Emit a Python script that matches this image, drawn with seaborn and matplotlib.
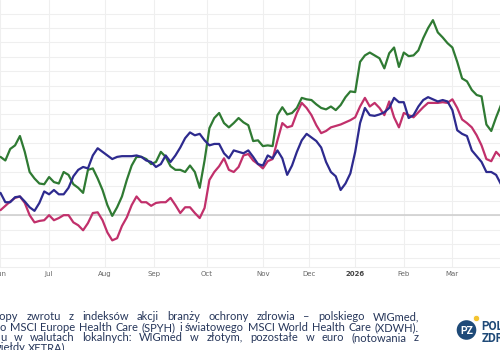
import numpy as np
import pandas as pd
import matplotlib
matplotlib.use("Agg")
import matplotlib.pyplot as plt
import seaborn as sns
from matplotlib.patches import Circle
from matplotlib.transforms import IdentityTransform

# GPW trading calendar (x axis runs in trading sessions, weekends/holidays skipped)
holidays = ["2025-06-19", "2025-08-15", "2025-11-11", "2025-12-24", "2025-12-25",
            "2025-12-26", "2025-12-31", "2026-01-01", "2026-01-06"]
sessions = pd.bdate_range("2025-06-02", "2026-03-31", freq="C", holidays=holidays)
dates = sessions[::2][:104]

# cumulative return, % (read every second session)
wigmed = [8.1, 7.6, 9.2, 9.7, 11.0, 8.8, 6.0, 5.1, 4.4, 4.3, 5.3, 4.6, 4.4, 6.0, 5.6, 4.3,
          3.8, 3.1, 6.3, 6.5, 5.1, 3.5, 1.4, -0.1, 1.1, 2.6, 4.9, 6.9, 8.1, 8.1, 7.8, 7.1,
          7.4, 8.8, 8.1, 6.8, 6.3, 6.3, 6.0, 6.9, 6.0, 3.8, 7.6, 12.1, 13.5, 14.2, 12.8, 12.2,
          12.8, 13.5, 12.9, 12.5, 10.3, 10.4, 9.6, 9.7, 9.6, 13.9, 15.0, 14.0, 14.2, 14.9, 16.3, 16.1,
          16.0, 15.4, 14.9, 14.7, 15.1, 14.6, 15.3, 16.4, 17.2, 17.1, 21.3, 22.2, 22.6, 22.2, 21.8, 20.4,
          22.5, 23.3, 20.6, 22.6, 22.1, 22.2, 22.9, 24.6, 26.0, 27.1, 25.4, 24.7, 23.9, 23.3, 21.3, 19.0,
          18.6, 17.4, 16.7, 16.5, 12.6, 11.7, 13.6, 15.3]
spyh = [0.7, 1.3, 1.9, 2.4, 2.6, 1.7, 0.0, -1.0, -0.8, -0.7, 0.0, -0.7, -0.4, 0.0, 0.0, -1.0,
        -1.4, -2.1, -1.1, 0.3, 0.4, -0.7, -2.4, -3.5, -3.2, -1.5, -0.3, 1.4, 2.6, 1.8, 1.8, 1.3,
        1.7, 1.8, 1.8, 2.4, 1.4, 0.3, 1.1, 1.1, 0.3, -0.4, 1.0, 4.9, 6.0, 6.8, 7.9, 6.3,
        6.0, 6.7, 8.3, 8.5, 7.6, 7.1, 6.5, 7.5, 7.8, 10.4, 12.8, 12.2, 12.4, 14.2, 15.6, 14.9,
        13.9, 12.5, 11.4, 11.7, 12.2, 12.4, 12.6, 12.9, 13.2, 13.6, 15.1, 16.3, 15.1, 15.6, 14.9, 13.9,
        15.8, 13.6, 12.2, 14.2, 13.9, 13.6, 14.3, 15.0, 15.6, 15.6, 15.6, 15.7, 15.6, 16.1, 14.9, 13.3,
        12.8, 12.2, 11.1, 9.7, 7.8, 7.5, 8.8, 8.1]
xdwh = [3.1, 1.8, 1.8, 2.5, 2.6, 1.9, 1.1, 0.6, 1.7, 3.3, 2.9, 3.5, 2.9, 2.9, 3.8, 5.4,
        6.3, 6.7, 6.5, 8.3, 9.3, 8.8, 8.3, 7.8, 8.1, 8.2, 8.2, 8.2, 8.3, 8.1, 7.6, 7.4,
        6.7, 7.1, 8.3, 7.4, 8.3, 9.4, 10.7, 11.5, 11.1, 11.3, 10.4, 9.7, 9.9, 9.9, 8.6, 7.9,
        9.0, 8.8, 8.6, 9.0, 8.1, 7.1, 6.9, 8.3, 7.9, 9.0, 7.9, 5.6, 6.9, 8.8, 10.4, 11.3,
        10.8, 10.3, 9.4, 7.4, 6.0, 5.4, 3.5, 4.4, 5.8, 8.8, 12.8, 14.9, 13.9, 13.8, 14.0, 14.3,
        14.9, 16.3, 15.7, 15.7, 13.5, 13.9, 15.1, 16.0, 16.4, 16.1, 15.8, 16.0, 15.8, 14.6, 11.8, 11.3,
        11.0, 9.0, 8.2, 7.4, 6.0, 6.0, 5.6, 4.3]

names = ["WIGmed", "MSCI Europe Health Care (SPYH)", "MSCI World Health Care (XDWH)"]
colors = ["#2f7a33", "#c1306b", "#2d2a8e"]

caption = [
    "Stopy zwrotu z indeksów akcji branży ochrony zdrowia – polskiego WIGmed,",
    "o MSCI Europe Health Care (SPYH) i światowego MSCI World Health Care (XDWH).",
    "u w walutach lokalnych: WIGmed w złotym, pozostałe w euro (notowania z",
    "giełdy XETRA).",
]

df = pd.DataFrame({"date": dates, names[0]: wigmed, names[1]: spyh, names[2]: xdwh})
df = df.melt(id_vars="date", var_name="index", value_name="ret")
df["day"] = sessions.get_indexer(df["date"])

sns.set_style("white")
W, H = 500, 350
fig = plt.figure(figsize=(W / 100, H / 100), dpi=100)
ax = fig.add_axes([0, 83 / H, 1, 267 / H])

sns.lineplot(data=df, x="day", y="ret", hue="index", hue_order=names, palette=colors,
             linewidth=1.6, legend=False, ax=ax, zorder=3)

ax.set_xlim(-0.2, 205.6)
ax.set_ylim(-7.2, 29.9)
ax.set_yticks(np.arange(-6, 30, 2))
ax.tick_params(axis="y", left=False, labelleft=False)

pos = pd.Series(np.arange(len(sessions)), index=sessions)
firsts = pos.groupby(sessions.to_period("M")).first()
labels = ["2026" if p.month == 1 else p.strftime("%b") for p in firsts.index]
ax.set_xticks(firsts.values)
ax.set_xticklabels(labels)
ax.tick_params(axis="x", length=0, pad=3, labelsize=5, labelcolor="#666666")
for lab in ax.get_xticklabels():
    if lab.get_text() == "2026":
        lab.set_fontweight("bold")
        lab.set_color("#444444")

ax.grid(True, color="#efefef", linewidth=0.8)
ax.axhline(0, color="#cccccc", linewidth=1.1, zorder=2)
for s in ["top", "left", "right"]:
    ax.spines[s].set_visible(False)
ax.spines["bottom"].set_color("#eeeeee")
ax.set_xlabel("")
ax.set_ylabel("")

# caption, justified like the source
txt_color = "#26365a"
r = fig.canvas.get_renderer()


def put_line(line, base_px, left, right, justify=True):
    words = line.split(" ")
    texts = [fig.text(0, 1 - base_px / H, w, fontsize=8.0, family="Lato", color=txt_color,
                      va="baseline") for w in words]
    widths = [t.get_window_extent(r).width for t in texts]
    space = texts[0].get_fontsize() * 0.3
    gap = (right - left - sum(widths)) / (len(words) - 1) if justify else space
    x = left
    for t, w in zip(texts, widths):
        t.set_x(x / W)
        x += w + gap


put_line(caption[0], 320.5, -10, 419)
put_line(caption[1], 331, 0, 419)
put_line(caption[2], 341, 0, 419)
put_line(caption[3], 351, -4, 419, justify=False)

# logo (pixel coordinates, origin bottom-left)
navy = "#1f4a78"
px = IdentityTransform()
fig.add_artist(Circle((466.5, H - 330), 9.8, transform=px, facecolor=navy, edgecolor="none"))
fig.add_artist(Circle((476.5, H - 318.5), 3.2, transform=px, facecolor="#f4c430",
                      edgecolor="white", linewidth=0.6))
fig.text(466.5 / W, 1 - 330.5 / H, "PZ", fontsize=7.5, fontweight="bold", color="white",
         ha="center", va="center", family="Roboto")
fig.text(481.5 / W, 1 - 326.5 / H, "POLITYKA", fontsize=8.5, fontweight="bold", color=navy,
         va="center", family="Roboto")
fig.text(481.5 / W, 1 - 338 / H, "ZDROWOTNA", fontsize=8.5, fontweight="bold", color=navy,
         va="center", family="Roboto")

fig.savefig("out.png", dpi=100)
